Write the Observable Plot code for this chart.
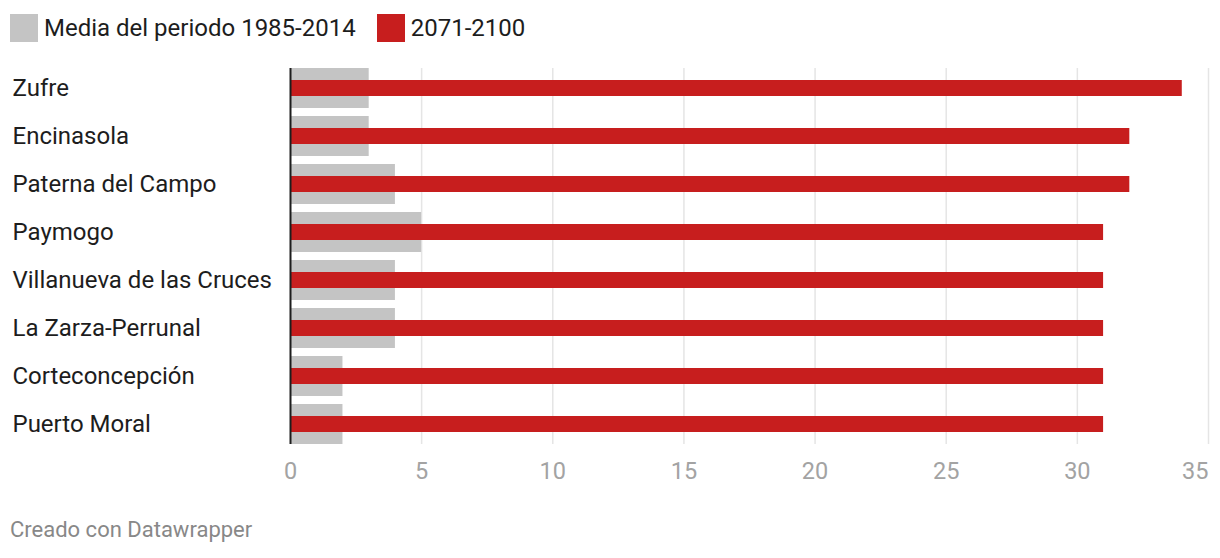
<!DOCTYPE html>
<html>
<head>
<meta charset="utf-8">
<script src="https://cdn.jsdelivr.net/npm/d3@7"></script>
<script src="https://cdn.jsdelivr.net/npm/@observablehq/plot@0.6"></script>
<style>
  html, body { margin: 0; padding: 0; background: #fff; }
  body { width: 1220px; height: 558px; position: relative; overflow: hidden; font-family: Roboto, sans-serif; }
  #legend { position: absolute; left: 10px; top: 14px; display: flex; align-items: center; font-size: 24px; color: #1d1d1d; height: 28px; }
  .sw { width: 28px; height: 28px; display: inline-block; margin-right: 6px; }
  .item { display: flex; align-items: center; margin-right: 21px; }
  #chart { position: absolute; left: 0; top: 56px; }
  #footer { position: absolute; left: 10px; top: 517px; font-size: 22px; color: #888; }
</style>
</head>
<body>
<div id="legend"></div>
<div id="chart"></div>
<div id="footer">Creado con Datawrapper</div>
<script>
const names = ["Zufre", "Encinasola", "Paterna del Campo", "Paymogo", "Villanueva de las Cruces", "La Zarza-Perrunal", "Corteconcepción", "Puerto Moral"];
const baseline = [3, 3, 4, 5, 4, 4, 2, 2];
const future = [34, 32, 32, 31, 31, 31, 31, 31];
const seriesNames = ["Media del periodo 1985-2014", "2071-2100"];
const seriesColors = ["#c4c4c4", "#c71e1e"];
const xTicks = [0, 5, 10, 15, 20, 25, 30, 35];

const rows = names.map((n, i) => ({name: n, base: baseline[i], fut: future[i]}));

const legend = document.getElementById("legend");
seriesNames.forEach((s, i) => {
  const it = document.createElement("div");
  it.className = "item";
  const sw = document.createElement("span");
  sw.className = "sw";
  sw.style.background = seriesColors[i];
  const t = document.createElement("span");
  t.textContent = s;
  it.appendChild(sw); it.appendChild(t);
  legend.appendChild(it);
});

const lastTick = xTicks[xTicks.length - 1];

const chart = Plot.plot({
  width: 1220,
  height: 440,
  marginLeft: 290,
  marginRight: 12,
  marginTop: 12,
  marginBottom: 52,
  style: {fontFamily: "Roboto, sans-serif", background: "#fff"},
  x: {domain: [0, 35]},
  y: {domain: names, paddingInner: 1/6, paddingOuter: 0},
  marks: [
    Plot.ruleX(xTicks.filter(d => d > 0), {stroke: "#e5e5e5", strokeWidth: 1.5}),
    Plot.barX(rows, {x: "base", y: "name", fill: seriesColors[0]}),
    Plot.barX(rows, {x: "fut", y: "name", fill: seriesColors[1], insetTop: 12, insetBottom: 12}),
    Plot.ruleX([0], {stroke: "#1d1d1d", strokeWidth: 2}),
    Plot.axisX({ticks: xTicks.slice(0, -1), tickSize: 0, tickPadding: 18, fontSize: 23.5, color: "#a3a3a3", label: null}),
    Plot.axisX({ticks: [lastTick], tickSize: 0, tickPadding: 18, fontSize: 23.5, color: "#a3a3a3", textAnchor: "end", label: null}),
    Plot.axisY({tickSize: 0, tickPadding: 0, textAnchor: "start", dx: -278, fontSize: 24, color: "#1d1d1d", label: null})
  ]
});
document.getElementById("chart").appendChild(chart);
</script>
</body>
</html>
